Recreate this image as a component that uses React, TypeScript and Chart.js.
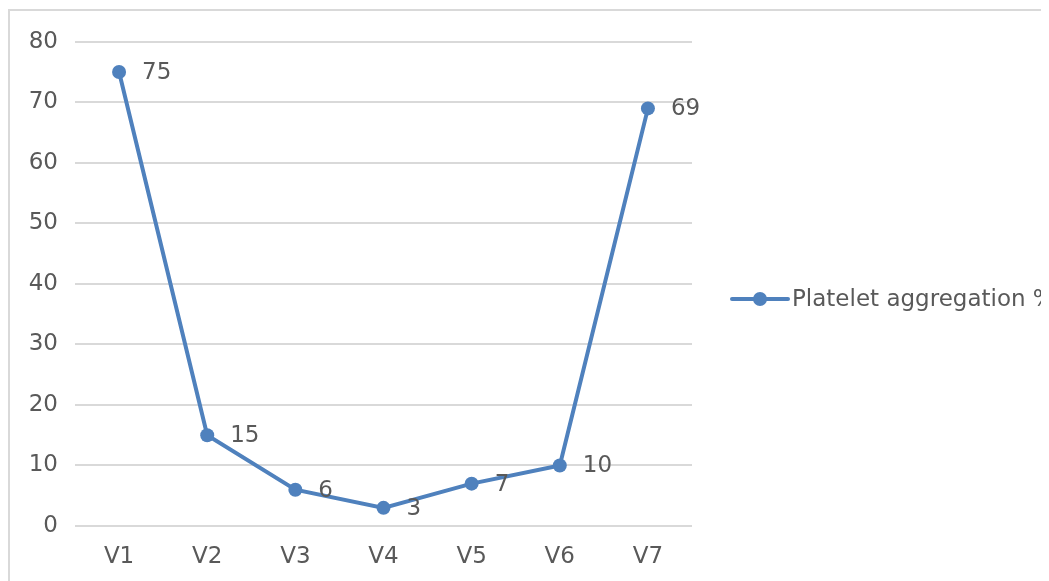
import React, { useEffect, useRef } from "react";
import { Chart, registerables } from "chart.js";

Chart.register(...registerables);

const categories = ["V1", "V2", "V3", "V4", "V5", "V6", "V7"];
const values = [75, 15, 6, 3, 7, 10, 69];
const seriesName = "Platelet aggregation %";
const yTicks = [0, 10, 20, 30, 40, 50, 60, 70, 80];

const LINE_COLOR = "#4F81BD";
const TEXT_COLOR = "#595959";
const FONT_FAMILY = '"DejaVu Sans", sans-serif';
const FONT_SIZE = 23;

const W = 1039;
const H = 580;

export default function App() {
  const ref = useRef<HTMLCanvasElement | null>(null);

  useEffect(() => {
    document.documentElement.style.overflow = "hidden";
    document.body.style.overflow = "hidden";
    const canvas = ref.current;
    if (!canvas) return;

    const labelsPlugin = {
      id: "valueLabels",
      afterDatasetsDraw(chart: any) {
        const ctx = chart.ctx;
        const meta = chart.getDatasetMeta(0);
        ctx.save();
        ctx.font = `${FONT_SIZE}px ${FONT_FAMILY}`;
        ctx.fillStyle = TEXT_COLOR;
        ctx.textAlign = "left";
        ctx.textBaseline = "middle";
        meta.data.forEach((pt: any, i: number) => {
          ctx.fillText(String(values[i]), pt.x + 23, pt.y + 1);
        });
        ctx.restore();
      },
    };

    const legendPlugin = {
      id: "customLegend",
      afterDraw(chart: any) {
        const ctx = chart.ctx;
        const y = 288;
        const x0 = chart.chartArea.right + 40;
        ctx.save();
        ctx.strokeStyle = LINE_COLOR;
        ctx.lineWidth = 4;
        ctx.lineCap = "round";
        ctx.beginPath();
        ctx.moveTo(x0, y);
        ctx.lineTo(x0 + 56, y);
        ctx.stroke();
        ctx.fillStyle = LINE_COLOR;
        ctx.beginPath();
        ctx.arc(x0 + 28, y, 7, 0, Math.PI * 2);
        ctx.fill();
        ctx.font = `${FONT_SIZE}px ${FONT_FAMILY}`;
        ctx.fillStyle = TEXT_COLOR;
        ctx.textAlign = "left";
        ctx.textBaseline = "middle";
        ctx.fillText(seriesName, x0 + 60, y + 1);
        ctx.restore();
      },
    };

    const chart = new Chart(canvas, {
      type: "line",
      data: {
        labels: categories,
        datasets: [
          {
            label: seriesName,
            data: values,
            borderColor: LINE_COLOR,
            backgroundColor: LINE_COLOR,
            borderWidth: 4,
            pointRadius: 7,
            pointBackgroundColor: LINE_COLOR,
            pointBorderColor: LINE_COLOR,
            pointBorderWidth: 0,
            tension: 0,
          },
        ],
      },
      options: {
        responsive: false,
        animation: false,
        layout: { padding: { top: 29, right: W - 682, left: 0, bottom: 0 } },
        plugins: {
          legend: { display: false },
          tooltip: { enabled: false },
        },
        scales: {
          x: {
            offset: true,
            grid: { display: false, drawTicks: false },
            border: { display: false },
            ticks: {
              color: TEXT_COLOR,
              font: { family: FONT_FAMILY, size: FONT_SIZE },
              padding: 17,
            },
            afterFit(scale: any) {
              scale.height = H - 515;
            },
          },
          y: {
            min: 0,
            max: 80,
            afterBuildTicks(scale: any) {
              scale.ticks = yTicks.map((v) => ({ value: v }));
            },
            grid: { color: "#d9d9d9", lineWidth: 2, drawTicks: false },
            border: { display: false },
            ticks: {
              color: TEXT_COLOR,
              font: { family: FONT_FAMILY, size: FONT_SIZE },
              padding: 17,
            },
            afterFit(scale: any) {
              scale.width = 65;
            },
          },
        },
      },
      plugins: [labelsPlugin, legendPlugin],
    });

    return () => chart.destroy();
  }, []);

  return (
    <div
      style={{
        marginTop: 1,
        borderLeft: "2px solid #d9d9d9",
        borderTop: "2px solid #d9d9d9",
        width: W,
        height: H,
        overflow: "hidden",
      }}
    >
      <canvas ref={ref} width={W} height={H} style={{ display: "block", width: W, height: H }} />
    </div>
  );
}
